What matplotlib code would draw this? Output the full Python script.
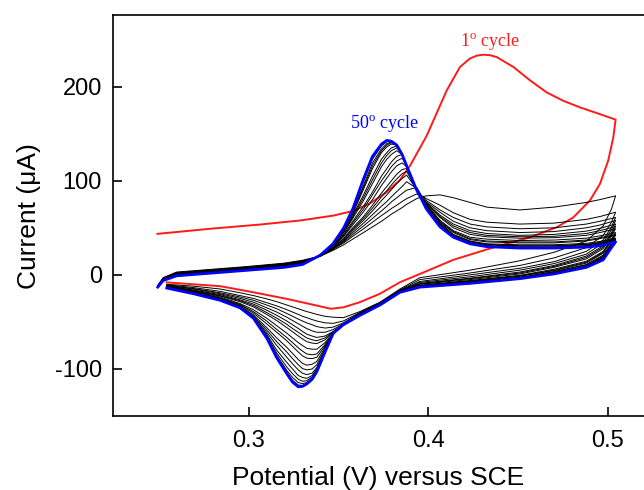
import numpy as np
import matplotlib
matplotlib.use("Agg")
import matplotlib.pyplot as plt

# --- 読み取ったデータ (電位 V, 電流 uA) ---

# 黒・青のサイクル共通の電位グリッド (往路 / 復路)
fwd_v = [0.2495, 0.2525, 0.26, 0.28, 0.30, 0.32, 0.33, 0.34, 0.347, 0.353,
         0.358, 0.364, 0.369, 0.374, 0.377, 0.3795, 0.3825, 0.3855, 0.388,
         0.3936, 0.3964, 0.399, 0.4066, 0.414, 0.4233, 0.4326, 0.451, 0.47,
         0.488, 0.4956, 0.5043]
rev_v = [0.5043, 0.502, 0.4974, 0.488, 0.47, 0.451, 0.4233, 0.3954, 0.3843,
         0.3732, 0.362, 0.3528, 0.3472, 0.3426, 0.338, 0.3354, 0.3324, 0.33,
         0.3277, 0.3245, 0.3213, 0.3157, 0.3101, 0.3027, 0.2953, 0.2842,
         0.2693, 0.2545]

# 1サイクル目 (赤)
c01_fwd_v = [0.2493, 0.2786, 0.3064, 0.3287, 0.3472, 0.3583, 0.3676, 0.3769,
             0.3843, 0.3899, 0.3992, 0.4103, 0.4177, 0.4233, 0.4270, 0.4307,
             0.4344, 0.4381, 0.4474, 0.4567, 0.4659, 0.4752, 0.4845, 0.4938,
             0.5043]
c01_fwd_i = [43.6, 49, 53.5, 57.8, 63, 68, 76, 88, 101, 116, 148, 196, 221,
             230, 233, 234, 233.5, 231.5, 221, 206.7, 194, 185, 178, 172, 165]
c01_rev_v = [0.5043, 0.503, 0.5002, 0.4956, 0.49, 0.4807, 0.4715, 0.4567,
             0.4418, 0.4326, 0.414, 0.3954, 0.3843, 0.3732, 0.362, 0.3528,
             0.3457, 0.3342, 0.3213, 0.3027, 0.2842, 0.2545]
c01_rev_i = [165, 146, 121.6, 96.8, 79, 61, 50.6, 40, 32, 27, 16, 1, -7.8, -20,
             -29, -34.5, -36, -31, -25.5, -18.5, -12, -8]

# 途中のサイクル (黒)
c02_fwd = [-11, -3, 3, 6, 9, 12.5, 15.5, 20, 26, 32, 38, 45, 51, 57, 61, 64.5,
           68, 71.5, 75, 81, 83, 84, 85, 82, 77, 72, 69, 72, 77, 80, 84]
c02_rev = [84, 70, 52, 36, 24, 15, 5, -3, -15, -29, -39, -45.5, -45, -44, -42,
           -40.5, -39, -37.5, -36, -34, -32, -28.5, -25.5, -22, -19, -15, -12,
           -10]
c03_fwd = [-11.5, -3.5, 2.5, 5.5, 8.5, 12, 15, 20, 27, 34, 41, 49, 56, 63, 67,
           70.5, 74, 78, 81, 86, 84, 81, 74, 66, 59, 56, 54, 55, 59, 62, 66.6]
c03_rev = [66.6, 56, 42, 29, 18, 10, 2, -5, -16, -29.5, -40, -49, -51.5, -51,
           -49, -47.5, -45.5, -44, -42, -39.5, -37, -33, -29.5, -25, -22, -17.5,
           -13.5, -10.5]
c04_fwd = [-12, -4, 2, 5, 8, 11.5, 14.5, 20, 27.5, 35, 43, 52, 60, 68, 73,
           77.5, 82, 86.5, 90, 93, 84, 79, 69, 61, 54, 51, 49, 50, 54, 57, 61]
c04_rev = [61, 51, 37, 25, 14, 7, 0, -7, -16.5, -30, -40.5, -51, -55.5, -56.5,
           -55, -53, -51, -49, -47, -44, -41, -36, -32, -27, -23.5, -19, -14.5,
           -11]
c05_fwd = [-12, -4.5, 1.5, 4.5, 7.5, 11, 14, 20, 28, 36, 45, 55, 64, 73, 78,
           83, 88.5, 94, 99, 92, 82.5, 77.5, 66.5, 57, 50, 47, 45, 46, 50, 53,
           57.8]
c05_rev = [57.8, 48, 34, 22, 12, 5, -2, -8, -17, -30.5, -41, -52, -58, -61,
           -61, -59.5, -57, -54.5, -52, -48.5, -45, -39.5, -35, -29, -25, -20,
           -15, -11.5]
c06_fwd = [-12.5, -5, 1, 4, 7, 10.5, 13.5, 20, 28.5, 37, 47, 58, 68, 79, 85,
           90.5, 97, 102.5, 106, 91, 82, 76.5, 63.5, 54, 47, 44, 42, 43, 46.5,
           49.5, 54]
c06_rev = [54, 45, 31, 20, 10, 3, -3.5, -9, -17, -31, -41.5, -52.5, -60, -65,
           -66.5, -65, -63, -60, -57, -53, -49, -43, -37.5, -31, -26.5, -21,
           -16, -12]
c07_fwd = [-12.5, -5, 0.7, 3.7, 6.7, 10.2, 13.2, 20, 28.8, 38, 48.5, 60, 71,
           83, 89.5, 95.5, 102, 107.5, 110, 90.5, 81.5, 76, 62, 52, 45, 42,
           40.5, 41, 44, 47, 51.5]
c07_rev = [51.5, 43, 29.5, 18.5, 9, 2, -4, -9.5, -17, -31, -41.5, -52.5, -60.5,
           -67, -70, -69, -67, -64, -61, -57, -52.5, -46, -40, -32.5, -27.5,
           -22, -16.5, -12]
c08_fwd = [-12.5, -5, 0.5, 3.5, 6.5, 10, 13, 20, 29, 39, 50, 62, 74, 87, 94,
           100, 107, 112, 113, 90.5, 81, 75.5, 61, 50, 43, 40.5, 39, 39.5, 42,
           45, 49]
c08_rev = [49, 41, 28, 17, 8, 1, -5, -10, -17.5, -31, -42, -52.5, -61, -69,
           -73, -72.5, -71, -68, -65, -60.5, -56, -48.5, -42, -34, -28.5, -22.5,
           -17, -12.5]
c10_fwd = [-12.5, -5.5, 0, 3, 6, 9.5, 12.5, 20, 30, 41, 53, 67, 80, 95, 103,
           109.5, 116, 119, 115, 90.5, 80.5, 74.5, 58, 47, 40, 38, 36.5, 37, 39,
           41.5, 45]
c10_rev = [45, 38, 25, 14.5, 6, -0.5, -6, -11, -17.5, -31.5, -42, -53, -61.5,
           -72, -79, -79, -78, -75, -72, -67, -62, -54, -46, -37, -30.5, -23.5,
           -17.5, -13]
c12_fwd = [-13, -5.5, 0, 2.7, 5.7, 9.2, 12.2, 20.3, 30.5, 42, 55, 70, 85, 100,
           108, 115, 121, 124, 116, 90, 80.5, 74, 57, 46, 38.5, 36, 35, 35, 37,
           39.5, 43]
c12_rev = [43.5, 37, 24, 13.5, 5, -1, -6.5, -11.5, -18, -31.5, -42.5, -53, -62,
           -74, -84, -85, -84, -81, -77.5, -72, -66.5, -58, -49, -39, -31.5,
           -24.5, -18, -13.5]
c14_fwd = [-13, -5.5, 0, 2.5, 5.5, 9, 12, 20.5, 31, 43, 57, 73, 88, 105, 113,
           120, 126, 128, 116, 90, 80, 73.5, 56, 45, 37.5, 35, 34, 34, 36, 38.5,
           42]
c14_rev = [42, 36, 23, 12.5, 4.5, -1.5, -7, -11.5, -18, -31.5, -42.5, -53, -62,
           -75.5, -87.5, -89, -88.5, -86, -82, -76, -70, -61, -52, -40.5, -32,
           -25, -18.5, -13.5]
c17_fwd = [-13, -6, -0.5, 2.5, 5.5, 8.5, 11.5, 20.5, 31.5, 45, 60, 79, 97, 115,
           123, 128, 132, 128, 116, 90, 80, 73, 55, 43, 36, 33, 32, 32, 33.5,
           35.5, 39]
c17_rev = [39, 33.5, 21, 11, 3.5, -2.5, -7.5, -12, -18, -31.5, -42.5, -53, -62,
           -77, -92, -95, -96, -94, -90, -83.5, -77, -67, -56, -42.5, -33,
           -25.5, -19, -13.5]
c20_fwd = [-13, -6, -0.5, 2.2, 5.2, 8.2, 11.2, 20.5, 32, 45.5, 61.5, 82, 101,
           119, 127, 132, 135, 128, 116, 90, 80, 72.5, 54.5, 42.5, 35.5, 32.5,
           31, 31, 32.5, 34.5, 38]
c20_rev = [38, 32.5, 20, 10.5, 3, -3, -8, -12.5, -18.5, -32, -43, -53, -62,
           -78.5, -95.5, -100, -101, -99.5, -95.5, -89, -82, -71, -58.5, -43.5,
           -33.5, -26, -19.5, -14]
c24_fwd = [-13, -6, -0.5, 2, 5, 8, 11, 20.5, 32, 46, 63, 85, 105, 123, 130,
           135, 137, 128, 116, 90, 80, 72, 54, 42, 35, 32, 30.5, 30.5, 32, 34,
           37.5]
c24_rev = [37, 31.5, 19, 9.5, 2.5, -3.5, -8.5, -12.5, -18.5, -32, -43, -53,
           -62, -79.5, -98.5, -104.5, -106, -104.5, -101, -94.5, -87.5, -75,
           -61, -44.5, -34, -26.5, -19.5, -14]
c28_fwd = [-13, -6, -0.5, 2, 5, 8, 11, 21, 32.5, 47.5, 65, 91, 113, 130, 136,
           139, 138, 128, 116, 90, 80, 71.5, 53, 41, 34, 31, 29.5, 29.5, 31, 33,
           36.5]
c28_rev = [36.5, 31, 18.5, 9, 2, -3.5, -8.5, -12.5, -18.5, -32, -43, -53, -62,
           -80, -100, -107, -110, -109, -107, -100, -93, -80, -63, -45, -34.5,
           -26.5, -19.5, -14]
c33_fwd = [-13, -6, -1, 2, 5, 8, 11, 21, 33, 48, 66, 93, 116, 132, 138, 140.5,
           138, 128, 116, 90, 80, 71, 52.5, 40.5, 33.5, 30.5, 29.2, 29.2, 30.7,
           32.5, 36]
c33_rev = [36, 30.5, 18, 8.7, 1.7, -3.7, -8.7, -13, -18.5, -32, -43, -53, -62,
           -81, -101, -108.5, -112.5, -113, -111, -105, -98, -83, -64.5, -45.5,
           -35, -27, -20, -14]
c38_fwd = [-13, -6, -1, 2, 5, 8, 11, 21, 33, 48.5, 67, 95, 119, 134, 139.5,
           141, 138, 128, 116, 90, 80, 70.5, 52, 40.5, 33.5, 30.5, 29, 29, 30.5,
           32, 35.5]
c38_rev = [35.5, 30, 17.5, 8.5, 1.5, -3.7, -8.7, -13, -18.5, -32, -43, -53,
           -62, -81, -102, -109.5, -114.5, -115.5, -114.5, -109, -101.5, -85.5,
           -65.5, -45.5, -35, -27, -20, -14]
c44_fwd = [-13, -6, -1, 2, 5, 8, 11, 21, 33, 49, 68.5, 99, 123, 137, 141.5,
           141.5, 138, 128, 116, 90, 80, 70.2, 51.5, 40, 33, 30, 28.8, 28.8, 30,
           31.5, 35]
c44_rev = [35.2, 29.5, 16.8, 8.2, 1.2, -4, -9, -13, -18.5, -32, -43, -53, -62,
           -81.5, -102.5, -110.5, -115.5, -117.5, -117, -112, -103.5, -87,
           -66.5, -46, -35, -27, -20, -14]

# 50サイクル目 (青)
c50_fwd = [-13, -6, -1, 2, 5, 8, 11, 21, 33, 50, 70, 102, 126, 139, 143, 142,
           138, 128, 116, 90, 80, 70, 51, 40, 33, 30, 28.5, 28.5, 29.5, 31, 35]
c50_rev = [35, 29, 16, 8, 1, -4, -9, -13, -18.5, -32, -43, -53, -62, -82, -103,
           -111, -116, -118.5, -119, -114, -105, -88, -67, -46, -35, -27, -20,
           -14]

black_cycles = [(c02_fwd, c02_rev), (c03_fwd, c03_rev), (c04_fwd, c04_rev),
                (c05_fwd, c05_rev), (c06_fwd, c06_rev), (c07_fwd, c07_rev),
                (c08_fwd, c08_rev), (c10_fwd, c10_rev), (c12_fwd, c12_rev),
                (c14_fwd, c14_rev), (c17_fwd, c17_rev), (c20_fwd, c20_rev),
                (c24_fwd, c24_rev), (c28_fwd, c28_rev), (c33_fwd, c33_rev),
                (c38_fwd, c38_rev), (c44_fwd, c44_rev)]

# --- 描画 ---
plt.rcParams['font.family'] = ['Liberation Sans', 'DejaVu Sans']
plt.rcParams['mathtext.fontset'] = 'custom'
plt.rcParams['mathtext.rm'] = 'Liberation Serif'
plt.rcParams['axes.unicode_minus'] = False

fig = plt.figure(figsize=(6.44, 4.9), dpi=100)
ax = fig.add_axes([0.1755, 0.151, 0.8245, 0.818])

v_all = fwd_v + rev_v

ax.plot(c01_fwd_v + c01_rev_v, c01_fwd_i + c01_rev_i, color='#ff1a1a', lw=1.4, zorder=2)
for fwd, rev in black_cycles:
    ax.plot(v_all, fwd + rev, color='black', lw=0.7, zorder=4)
# 最後のサイクルは青で上に描く
ax.plot(v_all, c50_fwd + c50_rev, color='#0000ff', lw=2.0, zorder=5)

ax.text(0.4345, 247, r"1$^{\mathrm{o}}$ cycle", color='#ff1a1a', fontsize=13,
        family='Liberation Serif', ha='center', va='center')
ax.text(0.3754, 160, r"50$^{\mathrm{o}}$ cycle", color='#0000ff', fontsize=13,
        family='Liberation Serif', ha='center', va='center')

ax.set_xlim(0.2246, 0.5201)
ax.set_ylim(-150, 276)
ax.set_xticks([0.3, 0.4, 0.5])
ax.set_yticks([-100, 0, 100, 200])
ax.tick_params(direction='in', length=6.5, width=1.2, labelsize=17)
ax.tick_params(axis='x', pad=10)
ax.tick_params(axis='y', pad=8)
for side in ['left', 'bottom', 'top']:
    ax.spines[side].set_linewidth(1.2)
ax.spines['right'].set_visible(False)

ax.set_xlabel('Potential (V) versus SCE', fontsize=19, labelpad=10)
ax.set_ylabel('Current (μA)', fontsize=19, labelpad=10)

fig.savefig('out.png', dpi=100)
